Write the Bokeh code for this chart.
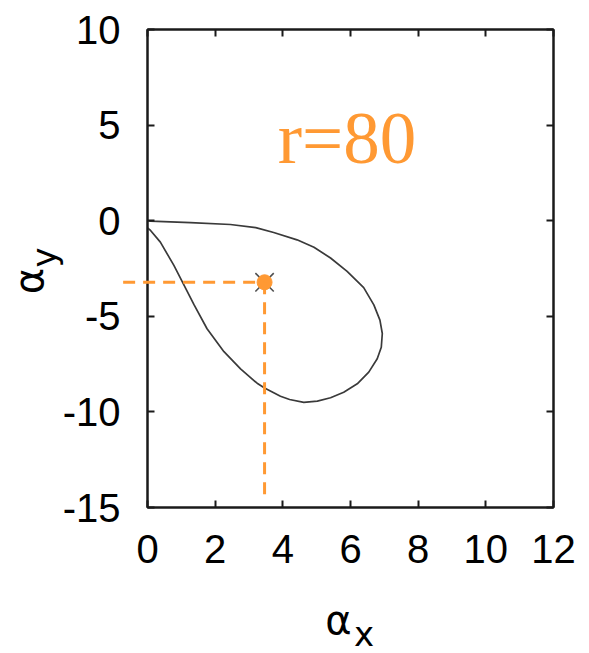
import math
from bokeh.plotting import figure
from bokeh.models import (Range1d, LinearAxis, FixedTicker, PrintfTickFormatter,
                          CustomJSTickFormatter)
from bokeh.core.properties import value
from bokeh.embed import file_html
from bokeh.resources import INLINE

# teardrop trajectory (alpha_x, alpha_y), traced clockwise from the origin
alpha_x = [0.0, 0.09, 1.27, 2.45, 3.2, 3.73, 4.42, 4.92, 5.41, 5.90, 6.39, 6.69, 6.87,
           6.94, 6.91, 6.79, 6.54, 6.20, 5.80, 5.41, 5.02, 4.62, 4.2, 3.93,
           3.46, 3.24, 2.75, 2.26, 1.76, 1.37, 1.03, 0.78, 0.38, 0.09, 0.0]
alpha_y = [0.0, -0.02, -0.1, -0.2, -0.36, -0.62, -1.0, -1.39, -1.95, -2.65, -3.5, -4.4, -5.2,
           -5.9, -6.62, -7.22, -7.92, -8.53, -8.97, -9.26, -9.44, -9.5, -9.35, -9.18,
           -8.75, -8.5, -7.75, -6.85, -5.65, -4.38, -3.2, -2.34, -1.12, -0.51, -0.38]

# highlighted point and its guide lines
point_x = [3.46]
point_y = [-3.22]
guide_left = -0.72
guide_bottom = -14.6

x_ticks = [0, 2, 4, 6, 8, 10, 12]
y_ticks = [-15, -10, -5, 0, 5, 10]

ORANGE = "#FF9933"
INK = "#1a1a1a"
TICK_FONT = "Liberation Sans"
TITLE_FONT = "DejaVu Sans"

p = figure(width=589, height=653, output_backend="svg", toolbar_location=None,
           x_range=Range1d(0, 12), y_range=Range1d(-15, 10),
           min_border_left=147, min_border_right=36, min_border_top=29,
           min_border_bottom=146)
p.grid.visible = False
p.outline_line_color = INK
p.outline_line_width = 2
p.background_fill_color = "white"
p.border_fill_color = "white"

# mirrored ticks on the right and top edges, without labels
p.add_layout(LinearAxis(), "right")
p.add_layout(LinearAxis(), "above")

for ax in p.xaxis:
    ax.ticker = FixedTicker(ticks=x_ticks)
for ax in p.yaxis:
    ax.ticker = FixedTicker(ticks=y_ticks)

for ax in p.axis:
    ax.axis_line_color = INK
    ax.axis_line_width = 2
    ax.major_tick_line_color = INK
    ax.major_tick_line_width = 2
    ax.major_tick_in = 7
    ax.major_tick_out = 0
    ax.minor_tick_line_color = None
    ax.major_label_text_font = TICK_FONT
    ax.major_label_text_font_size = "40px"
    ax.major_label_text_color = "black"
    ax.major_label_standoff = 27
    ax.formatter = PrintfTickFormatter(format="%d")

for ax in (p.right[0], p.above[0]):
    ax.formatter = CustomJSTickFormatter(code="return ''")
    ax.major_label_standoff = 0

# trajectory
p.line(alpha_x, alpha_y, line_color="#3a3a3a", line_width=1.7)

# dashed guides from the axes to the point (overlay level, so not clipped)
p.line([guide_left, point_x[0]], [point_y[0], point_y[0]], line_color=ORANGE,
       line_width=3, line_dash="12 8", level="overlay")
p.line([point_x[0], point_x[0]], [point_y[0], guide_bottom], line_color=ORANGE,
       line_width=3, line_dash="12 8", level="overlay")

p.scatter(point_x, point_y, marker="x", size=26, line_color="#505050", line_width=1.6)
p.scatter(point_x, point_y, marker="circle", size=15, fill_color=ORANGE, line_color=ORANGE)

p.text(x=[3.85], y=[4.3], text=["r=80"], text_font=value("Liberation Serif"),
       text_font_size=value("73px"), text_color=ORANGE,
       text_baseline="alphabetic", text_align="left", level="overlay")

# axis titles: alpha with a lowered subscript
title_kw = dict(text_font=value(TITLE_FONT), text_color="black",
                text_baseline="alphabetic", text_align="left", level="overlay")
p.text(x=[5.25], y=[-20.9], text=["α"], text_font_size=value("40px"), **title_kw)
p.text(x=[6.1], y=[-21.62], text=["x"], text_font_size=value("34px"), **title_kw)
p.text(x=[-3.5], y=[-3.85], text=["α"], text_font_size=value("40px"),
       angle=math.pi / 2, **title_kw)
p.text(x=[-3.05], y=[-2.45], text=["y"], text_font_size=value("34px"),
       angle=math.pi / 2, **title_kw)

open("out.html", "w").write(file_html(p, INLINE))
